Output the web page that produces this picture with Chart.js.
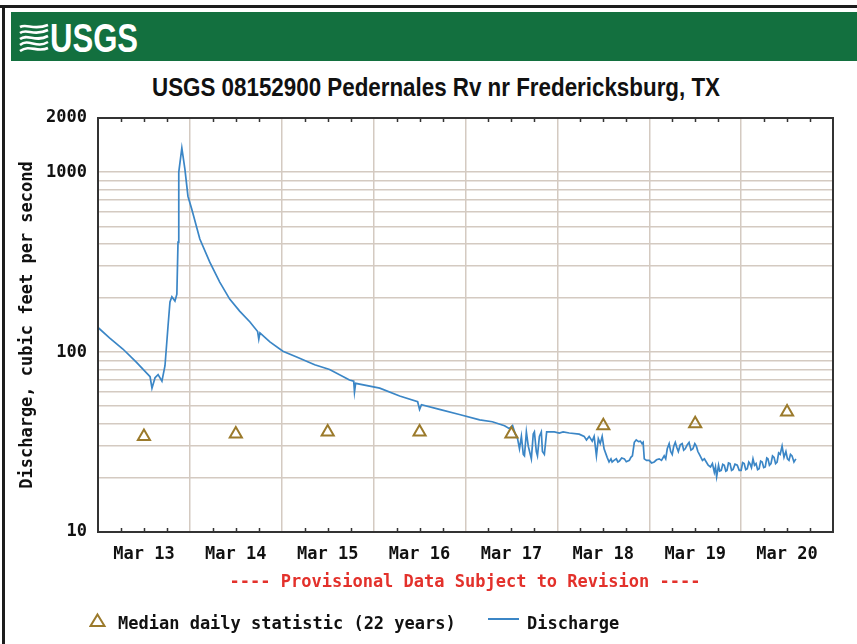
<!DOCTYPE html>
<html>
<head>
<meta charset="utf-8">
<script src="https://cdn.jsdelivr.net/npm/chart.js@4.4.1/dist/chart.umd.min.js"></script>
<style>
  html, body { margin: 0; padding: 0; background: #fff; }
  #page { position: relative; width: 857px; height: 644px; overflow: hidden; background: #fff; }
  #frameTop { position: absolute; left: 0; top: 5px; width: 857px; height: 3px; background: #1c1c1c; }
  #frameLeft { position: absolute; left: 2px; top: 5px; width: 3px; height: 639px; background: #1c1c1c; }
  #bar { position: absolute; left: 11px; top: 12px; width: 846px; height: 49px; background: #13703f; }
  #logoText { position: absolute; left: 50px; top: 15px; font: bold 40px/46px "Liberation Sans Narrow", "Liberation Sans", Arial, sans-serif;
              color: #fff; white-space: nowrap; transform-origin: left top; }
  #title { position: absolute; left: 436px; top: 73px; font: bold 26px/29px "Liberation Sans Narrow", "Liberation Sans", Arial, sans-serif;
           color: #111; white-space: nowrap; transform-origin: left top; }
  .mono { font-family: "DejaVu Sans Mono", monospace; font-weight: bold; font-size: 17px; line-height: 20px; white-space: nowrap; position: absolute; }
  #provisional { left: 0; width: 930px; top: 571px; text-align: center; color: #e3312b; }
  #leg1 { left: 118px; top: 613px; color: #111; }
  #leg2 { left: 527px; top: 613px; color: #111; }
  canvas { position: absolute; left: 0; top: 0; }
</style>
</head>
<body>
<div id="page">
  <div id="frameTop"></div>
  <div id="frameLeft"></div>
  <div id="bar"></div>
  <svg style="position:absolute;left:19px;top:23px" width="30" height="29" viewBox="0 0 30 29">
    <g fill="none" stroke="#fff" stroke-width="2.6">
      <path d="M1 4 C8 0, 14 8, 29 2"/>
      <path d="M1 10 C8 5, 15 14, 29 7"/>
      <path d="M1 16 C9 10, 16 20, 29 13"/>
      <path d="M1 22 C10 15, 17 26, 29 19"/>
      <path d="M1 28 C11 21, 18 30, 29 25"/>
    </g>
  </svg>
  <span id="logoText">USGS</span>
  <span id="title">USGS 08152900 Pedernales Rv nr Fredericksburg, TX</span>
  <canvas id="chart" width="857" height="644"></canvas>
  <div id="provisional" class="mono">---- Provisional Data Subject to Revision ----</div>
  <svg style="position:absolute;left:89px;top:612px" width="18" height="17">
    <polygon points="8.5,2.5 15.5,14 1.5,14" fill="none" stroke="#9b7a2b" stroke-width="2"/>
  </svg>
  <div id="leg1" class="mono">Median daily statistic (22 years)</div>
  <svg style="position:absolute;left:487px;top:617px" width="33" height="4">
    <line x1="1" y1="2" x2="32" y2="2" stroke="#3b86c6" stroke-width="2"/>
  </svg>
  <div id="leg2" class="mono">Discharge</div>
</div>
<script>
// x values are hours after Mar 13 00:00
var dayLabels = ['Mar 13', 'Mar 14', 'Mar 15', 'Mar 16', 'Mar 17', 'Mar 18', 'Mar 19', 'Mar 20'];

// [hour, cfs] readings
var flowReadings = [
  [0, 137], [3, 120], [6.5, 104], [10, 88], [13.6, 73], [14.1, 63], [14.9, 72], [15.7, 75], [16.7, 69],
  [17.5, 84], [18.3, 140], [18.8, 190], [19.3, 203], [20.1, 192], [20.6, 210], [20.9, 408], [21.1, 1000],
  [21.9, 1360], [22.2, 1230], [22.7, 1040], [23.5, 735], [24.5, 622], [26.6, 425], [29.2, 316], [31.8, 245],
  [34.4, 197], [37.0, 169], [39.7, 147], [41.7, 130], [42.0, 118], [42.3, 128], [44.9, 114], [48.3, 101],
  [51.9, 94], [56.6, 85], [60.5, 80], [65.7, 70], [66.8, 69], [67.0, 60], [67.3, 67], [73.6, 63], [78.8, 57],
  [83.5, 53], [84.0, 48], [84.5, 51], [89.2, 48], [94.4, 45], [99.7, 42], [103.0, 41], [106.2, 39],
  [107.5, 37.5], [108.3, 39], [109.0, 35], [109.6, 33], [110.1, 29], [110.6, 34], [111.1, 27], [111.4, 26.5],
  [111.9, 36], [112.4, 30], [113.2, 25.5], [113.7, 35], [114.0, 36], [114.5, 28], [114.8, 26.5], [115.3, 34],
  [115.8, 36], [116.1, 28], [116.6, 27], [117.2, 36], [119.2, 36], [120.5, 35.5], [121.5, 36], [123.1, 35.5],
  [125.7, 35], [127.0, 34], [127.6, 32.5], [128.3, 34], [129.1, 32], [129.6, 34], [130.2, 26.5], [130.7, 33],
  [131.2, 31], [131.7, 34], [132.2, 29], [133.0, 26], [133.5, 24.5], [134.0, 25.5], [134.3, 24.5], [134.8, 25],
  [135.4, 25.5], [135.8, 24.5], [136.2, 24.8], [136.8, 25.8], [137.5, 25.5], [138.0, 24.6], [138.8, 25],
  [139.2, 26], [139.6, 26.5], [140.1, 31.5], [140.6, 32.5], [141.2, 31.8], [141.7, 32], [142.1, 31],
  [142.4, 31.5], [142.7, 25.5], [143.3, 25], [144.0, 25], [144.6, 24.2], [145.3, 24.5], [145.9, 25.2],
  [146.6, 25.5], [147.2, 25], [147.9, 26.5], [148.3, 25.5], [148.7, 29], [149.2, 31], [149.6, 28], [150.0, 27],
  [150.4, 30], [150.8, 31.5], [151.2, 29.5], [151.6, 28], [152.1, 30.5], [152.6, 31], [153.0, 28.5],
  [153.4, 29], [153.9, 30.5], [154.4, 31.5], [154.9, 28.5], [155.4, 29], [155.9, 31], [156.3, 30], [156.7, 28],
  [157.1, 27], [157.5, 26], [157.9, 25], [158.4, 25.5], [158.9, 24.5], [159.4, 23.5], [160.0, 23], [160.5, 24],
  [161.0, 21.5], [161.3, 23], [161.6, 20.3], [162.1, 23.5], [162.4, 21.8], [162.8, 22], [163.2, 23.8],
  [163.6, 23.5], [164.0, 21.8], [164.3, 22], [164.7, 24.2], [165.1, 24], [165.5, 22], [165.9, 22.3],
  [166.4, 23.8], [167.0, 23.5], [167.5, 22], [168.0, 22], [168.4, 24.3], [168.8, 24], [169.2, 22.2],
  [169.6, 22.5], [170.0, 24.5], [170.3, 24], [170.7, 22.8], [171.1, 25.5], [171.5, 23.5], [171.9, 24],
  [172.3, 22.2], [172.7, 22.5], [173.1, 24.8], [173.5, 24.5], [173.9, 22.8], [174.3, 23], [174.7, 25.8],
  [175.0, 25.5], [175.4, 23.5], [175.8, 24], [176.2, 26.5], [176.6, 26], [177.0, 24], [177.4, 24.5],
  [177.8, 27.5], [178.2, 27], [178.7, 30], [179.2, 26], [179.7, 28], [180.1, 25.5], [180.5, 25], [180.9, 27],
  [181.3, 26.5], [181.8, 24.5], [182.3, 25.5]
];

var medianHours = [12, 36, 60, 84, 108, 132, 156, 180];
var medianCfs = [34, 35, 36, 36, 35, 39, 40, 46.5];

var yGridValues = [10, 20, 30, 40, 50, 60, 70, 80, 90, 100, 200, 300, 400, 500, 600, 700, 800, 900, 1000, 2000];
var yLabelValues = [10, 100, 1000, 2000];
var xGridHours = [0, 12, 24, 36, 48, 60, 72, 84, 96, 108, 120, 132, 144, 156, 168, 180, 192];

var monoFont = { family: 'DejaVu Sans Mono', weight: 'bold', size: 17 };
var gridColor = '#d4cac1';

// squeeze header texts to the widths seen in the picture
function fitWidth(id, w, centered) {
  var el = document.getElementById(id);
  var k = w / el.getBoundingClientRect().width;
  el.style.transform = (centered ? 'translateX(' + (-w / 2) + 'px) ' : '') + 'scaleX(' + k + ')';
}
fitWidth('logoText', 88, false);
fitWidth('title', 568, true);

var framePlugin = {
  id: 'frame',
  afterDraw: function(chart) {
    var ctx = chart.ctx, a = chart.chartArea, xs = chart.scales.x;
    ctx.save();
    ctx.strokeStyle = '#333';
    ctx.lineWidth = 2;
    ctx.strokeRect(a.left, a.top, a.right - a.left, a.bottom - a.top);
    ctx.lineWidth = 1.5;
    for (var h = 6; h < 192; h += 6) {
      if (h % 24 === 0) continue;
      var x = Math.round(xs.getPixelForValue(h)) + 0.5;
      ctx.beginPath();
      ctx.moveTo(x, a.bottom); ctx.lineTo(x, a.bottom - 4);
      ctx.moveTo(x, a.top); ctx.lineTo(x, a.top + 4);
      ctx.stroke();
    }
    ctx.restore();
  }
};

var ctx = document.getElementById('chart').getContext('2d');
var chart = new Chart(ctx, {
  type: 'line',
  data: {
    datasets: [
      {
        label: 'Discharge',
        data: flowReadings.map(function(r) { return { x: r[0], y: r[1] }; }),
        borderColor: '#3b86c6',
        borderWidth: 1.7,
        pointRadius: 0,
        tension: 0,
        order: 2
      },
      {
        label: 'Median daily statistic (22 years)',
        data: medianHours.map(function(h, i) { return { x: h, y: medianCfs[i] }; }),
        showLine: false,
        pointStyle: 'triangle',
        pointRadius: 7,
        pointBorderWidth: 2,
        pointBorderColor: '#9b7a2b',
        pointBackgroundColor: 'rgba(0,0,0,0)',
        order: 1
      }
    ]
  },
  options: {
    responsive: false,
    animation: false,
    layout: { padding: { left: 0, top: 118, right: 24, bottom: 0 } },
    plugins: {
      legend: { display: false },
      tooltip: { enabled: false }
    },
    scales: {
      x: {
        type: 'linear',
        min: 0,
        max: 192,
        afterBuildTicks: function(scale) {
          scale.ticks = xGridHours.map(function(v) { return { value: v }; });
        },
        afterFit: function(scale) { scale.height = 112; },
        ticks: {
          autoSkip: false,
          maxRotation: 0,
          padding: 12,
          color: '#111',
          font: monoFont,
          callback: function(v) { return v % 24 === 12 ? dayLabels[(v - 12) / 24] : ''; }
        },
        grid: {
          drawTicks: false,
          lineWidth: 1.5,
          color: function(c) { return c.tick && c.tick.value % 24 === 0 ? gridColor : 'rgba(0,0,0,0)'; }
        },
        border: { display: false }
      },
      y: {
        type: 'logarithmic',
        min: 10,
        max: 2000,
        afterBuildTicks: function(scale) {
          scale.ticks = yGridValues.map(function(v) { return { value: v }; });
        },
        afterFit: function(scale) { scale.width = 98; },
        ticks: {
          autoSkip: false,
          padding: 11,
          color: '#111',
          font: monoFont,
          callback: function(v) { return yLabelValues.indexOf(v) >= 0 ? String(v) : ''; }
        },
        grid: { drawTicks: false, lineWidth: 1.5, color: gridColor },
        border: { display: false },
        title: {
          display: true,
          text: 'Discharge, cubic feet per second',
          color: '#111',
          font: monoFont,
          padding: { top: 17, bottom: 0 }
        }
      }
    }
  },
  plugins: [framePlugin]
});
</script>
</body>
</html>
